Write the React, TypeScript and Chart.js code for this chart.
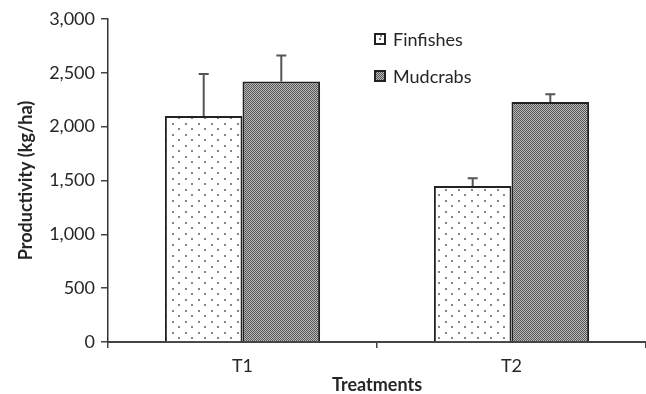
import React, { useEffect, useRef } from 'react';
import { Chart, registerables } from 'chart.js';

Chart.register(...registerables);

const categories = ['T1', 'T2'];
const seriesNames = ['Finfishes', 'Mudcrabs'];
const finfishes = [2100, 1450];
const mudcrabs = [2420, 2230];
const finfishesErr = [390, 70];
const mudcrabsErr = [240, 70];
const yTicks = [0, 500, 1000, 1500, 2000, 2500, 3000];
const yTitle = 'Productivity (kg/ha)';
const xTitle = 'Treatments';

const FONT = 'Lato';
const TEXT = '#262626';

function makeDots(): CanvasPattern | string {
  const c = document.createElement('canvas');
  c.width = 13;
  c.height = 11;
  const g = c.getContext('2d');
  if (!g) return '#fff';
  g.fillStyle = '#ffffff';
  g.fillRect(0, 0, 13, 11);
  g.fillStyle = '#858585';
  g.fillRect(3, 2, 2, 2);
  g.fillRect(9, 7, 2, 2);
  return g.createPattern(c, 'repeat') || '#fff';
}

function makeChecker(): CanvasPattern | string {
  const c = document.createElement('canvas');
  c.width = 2;
  c.height = 2;
  const g = c.getContext('2d');
  if (!g) return '#888';
  g.fillStyle = '#b8b8b8';
  g.fillRect(0, 0, 2, 2);
  g.fillStyle = '#585858';
  g.fillRect(0, 0, 1, 1);
  g.fillRect(1, 1, 1, 1);
  return g.createPattern(c, 'repeat') || '#888';
}

const errorBarPlugin = {
  id: 'errorBars',
  afterDatasetsDraw(chart: any) {
    const ctx = chart.ctx;
    const ys = chart.scales.y;
    chart.data.datasets.forEach((ds: any, di: number) => {
      const meta = chart.getDatasetMeta(di);
      meta.data.forEach((bar: any, i: number) => {
        const v = ds.data[i];
        const e = ds.errors[i];
        const x = bar.x;
        const y0 = ys.getPixelForValue(v);
        const y1 = ys.getPixelForValue(v + e);
        ctx.save();
        ctx.strokeStyle = '#555';
        ctx.lineWidth = 2;
        ctx.beginPath();
        ctx.moveTo(x, y0);
        ctx.lineTo(x, y1);
        ctx.moveTo(x - 5, y1);
        ctx.lineTo(x + 5, y1);
        ctx.stroke();
        ctx.restore();
      });
    });
  },
};

const legendPlugin = {
  id: 'insideLegend',
  afterDraw(chart: any) {
    const ctx = chart.ctx;
    const boxX = 374;
    const size = 12;
    const rows = [39, 76];
    chart.data.datasets.forEach((ds: any, i: number) => {
      const cy = rows[i];
      ctx.save();
      ctx.fillStyle = ds.backgroundColor;
      ctx.fillRect(boxX, cy - size / 2, size, size);
      if (i === 0) {
        ctx.fillStyle = '#666';
        ctx.fillRect(boxX + 5, cy - 1, 2, 2);
      }
      ctx.strokeStyle = '#222';
      ctx.lineWidth = 2;
      ctx.strokeRect(boxX + 1, cy - size / 2 + 1, size - 2, size - 2);
      ctx.fillStyle = TEXT;
      ctx.font = `18px ${FONT}`;
      ctx.textBaseline = 'middle';
      ctx.textAlign = 'left';
      ctx.fillText(ds.label, boxX + 19, cy + 1);
      ctx.restore();
    });
  },
};

export default function App() {
  const ref = useRef<HTMLCanvasElement | null>(null);

  useEffect(() => {
    document.body.style.margin = '0';
    const canvas = ref.current;
    if (!canvas) return;
    const chart = new Chart(canvas, {
      type: 'bar',
      data: {
        labels: categories,
        datasets: [
          {
            label: seriesNames[0],
            data: finfishes,
            errors: finfishesErr,
            backgroundColor: makeDots(),
            borderColor: '#222',
            borderWidth: 2,
            categoryPercentage: 0.577,
            barPercentage: 1,
          } as any,
          {
            label: seriesNames[1],
            data: mudcrabs,
            errors: mudcrabsErr,
            backgroundColor: makeChecker(),
            borderColor: '#222',
            borderWidth: 2,
            categoryPercentage: 0.577,
            barPercentage: 1,
          } as any,
        ],
      },
      options: {
        animation: false,
        responsive: false,
        devicePixelRatio: 1,
        layout: { padding: { top: 19, right: 0, bottom: 0, left: 0 } },
        plugins: {
          legend: { display: false },
          tooltip: { enabled: false },
        },
        scales: {
          x: {
            type: 'category',
            offset: true,
            grid: {
              offset: true,
              drawOnChartArea: false,
              tickLength: 6,
              color: '#444',
              lineWidth: 1.5,
            },
            border: { display: true, color: '#444', width: 2 },
            ticks: {
              color: TEXT,
              font: { family: FONT, size: 18 },
              padding: 7,
            },
            title: {
              display: true,
              text: xTitle,
              color: TEXT,
              font: { family: FONT, size: 18, weight: 'bold', lineHeight: 1 },
              padding: { top: 0, bottom: 0 },
            },
            afterFit: (s: any) => {
              s.height = 52;
            },
          },
          y: {
            min: 0,
            max: 3000,
            afterBuildTicks: (s: any) => {
              s.ticks = yTicks.map((v) => ({ value: v }));
            },
            grid: {
              drawOnChartArea: false,
              tickLength: 7,
              color: '#444',
              lineWidth: 1.5,
            },
            border: { display: true, color: '#333', width: 1.5 },
            ticks: {
              color: TEXT,
              font: { family: FONT, size: 18 },
              padding: 6,
              callback: (v: any) => Number(v).toLocaleString('en-US'),
            },
            title: {
              display: true,
              text: yTitle,
              color: TEXT,
              font: { family: FONT, size: 18, weight: 'bold' },
              padding: { top: 15, bottom: 0 },
            },
            afterFit: (s: any) => {
              s.width = 108;
            },
          },
        },
      } as any,
      plugins: [errorBarPlugin, legendPlugin],
    });
    return () => chart.destroy();
  }, []);

  return (
    <div style={{ width: 646, height: 394, background: '#fff' }}>
      <canvas ref={ref} width={646} height={394} />
    </div>
  );
}
